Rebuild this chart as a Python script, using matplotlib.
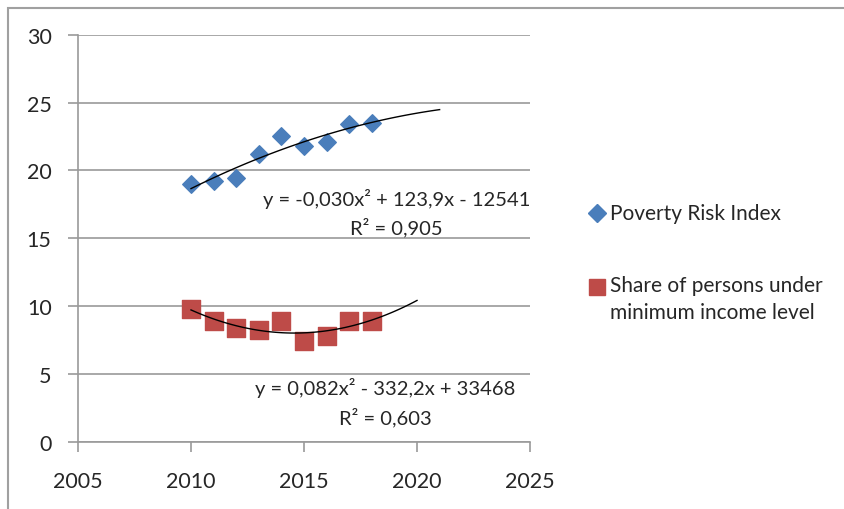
import numpy as np
from matplotlib import pyplot as plt
from matplotlib.patches import Rectangle
from matplotlib.lines import Line2D

plt.rcParams['font.family'] = ['Lato', 'DejaVu Sans']

# Data
years = [2010, 2011, 2012, 2013, 2014, 2015, 2016, 2017, 2018]
poverty_risk = [19.0, 19.2, 19.4, 21.2, 22.5, 21.8, 22.1, 23.4, 23.5]
under_min_income = [9.8, 8.9, 8.4, 8.2, 8.9, 7.4, 7.8, 8.9, 8.9]

label_risk = 'Poverty Risk Index'
label_income = 'Share of persons under\nminimum income level'
eq_risk = 'y = -0,030x² + 123,9x - 12541\nR² = 0,905'
eq_income = 'y = 0,082x² - 332,2x + 33468\nR² = 0,603'

blue = '#4a7ebb'
red = '#be4b48'
grey = '#9a9a9a'
text_col = '#262626'

fig = plt.figure(figsize=(8.44, 5.1), dpi=100)
ax = fig.add_axes([0.0924, 0.132, 0.628 - 0.0924, 0.930 - 0.132])

# gray frame around the chart area
fig.add_artist(Rectangle((8 / 844, -0.1), 1.2, 1 - 9 / 510 + 0.1, transform=fig.transFigure,
                         fill=False, edgecolor='#a0a0a0', linewidth=1.5, clip_on=False))

ax.scatter(years, poverty_risk, marker='D', s=80, color=blue, zorder=3)
ax.scatter(years, under_min_income, marker='s', s=150, color=red, zorder=3)

# quadratic trend lines
x = np.array(years, dtype=float)
c1 = np.polyfit(x - 2014, poverty_risk, 2)
xt1 = np.linspace(2010, 2021, 100)
ax.plot(xt1, np.polyval(c1, xt1 - 2014), color='black', linewidth=1, zorder=4)
c2 = np.polyfit(x - 2014, under_min_income, 2)
xt2 = np.linspace(2010, 2020, 100)
ax.plot(xt2, np.polyval(c2, xt2 - 2014), color='black', linewidth=1, zorder=4)

ax.text(2019.1, 16.9, eq_risk, ha='center', va='center', fontsize=14.5, color=text_col,
        multialignment='center', linespacing=1.55)
ax.text(2018.6, 2.95, eq_income, ha='center', va='center', fontsize=14.5, color=text_col,
        multialignment='center', linespacing=1.55)

ax.set_xlim(2005, 2025)
ax.set_ylim(0, 30)
ax.set_xticks(range(2005, 2026, 5))
ax.set_yticks(range(0, 31, 5))
ax.yaxis.grid(True, color=grey, linewidth=1.2)
ax.set_axisbelow(True)
for s in ['top', 'right']:
    ax.spines[s].set_visible(False)
for s in ['left', 'bottom']:
    ax.spines[s].set_color(grey)
    ax.spines[s].set_linewidth(1.2)
ax.tick_params(axis='both', colors=grey, labelcolor=text_col, labelsize=15.5, length=7, width=1.2)
ax.tick_params(axis='x', pad=14)
ax.tick_params(axis='y', pad=12)

# legend, marker aligned with the first text line
fig.add_artist(Line2D([597 / 844], [1 - 214 / 510], marker='D', markersize=9, color=blue,
                      linestyle='none', transform=fig.transFigure))
fig.text(610 / 844, 1 - 214 / 510, label_risk, fontsize=15, color=text_col, va='center')
fig.add_artist(Line2D([597 / 844], [1 - 288 / 510], marker='s', markersize=12, color=red,
                      linestyle='none', transform=fig.transFigure))
fig.text(610 / 844, 1 - 288 / 510, label_income, fontsize=15, color=text_col, va='top',
         linespacing=1.45, transform=fig.transFigure,
         position=(610 / 844, 1 - 276 / 510))

fig.savefig('out.png', dpi=100)
